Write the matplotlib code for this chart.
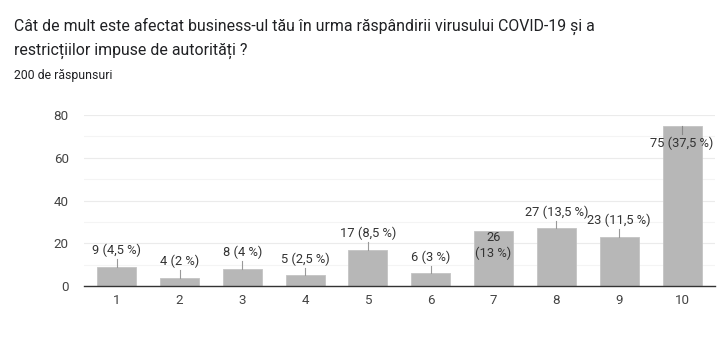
"""Google Forms style bar chart: impact of COVID-19 on business."""

import matplotlib

matplotlib.use("Agg")
import matplotlib.pyplot as plt

categories = ["1", "2", "3", "4", "5", "6", "7", "8", "9", "10"]
counts = [9, 4, 8, 5, 17, 6, 26, 27, 23, 75]
labels = ["9 (4,5 %)", "4 (2 %)", "8 (4 %)", "5 (2,5 %)", "17 (8,5 %)",
          "6 (3 %)", "26\n(13 %)", "27 (13,5 %)", "23 (11,5 %)", "75 (37,5 %)"]
y_ticks = [0, 20, 40, 60, 80]

plt.rcParams["font.family"] = ["Roboto", "DejaVu Sans"]

fig = plt.figure(figsize=(7.2, 3.51), dpi=100)
ax = fig.add_axes([0.1167, 0.185, 0.876, 0.487])

fig.text(14 / 720, 1 - 26 / 351,
         "Cât de mult este afectat business-ul tău în urma răspândirii virusului COVID-19 și a",
         fontsize=11.4, color="#202124", va="center")
fig.text(14 / 720, 1 - 51 / 351, "restricțiilor impuse de autorități ?",
         fontsize=11.4, color="#202124", va="center")
fig.text(14 / 720, 1 - 76 / 351, "200 de răspunsuri",
         fontsize=8.8, color="#202124", va="center")

x = list(range(1, len(categories) + 1))
ax.bar(x, counts, width=0.62, color="#b7b7b7", edgecolor="#c4c4c4",
       linewidth=0.6, zorder=3)

lab_fs = 9.3
for xi, v, lab in zip(x, counts, labels):
    if v >= 70:
        ax.plot([xi, xi], [v, v - 4], color="#888888", lw=0.8, zorder=4)
        ax.text(xi, v - 8, lab, ha="center", va="center", fontsize=lab_fs,
                color="#333333", zorder=5)
    elif "\n" in lab:
        ax.text(xi, v - 7, lab, ha="center", va="center", fontsize=lab_fs,
                color="#333333", zorder=5, linespacing=1.2)
    else:
        ax.plot([xi, xi], [v, v + 3.6], color="#999999", lw=0.8, zorder=4)
        ax.text(xi, v + 7.6, lab, ha="center", va="center", fontsize=lab_fs,
                color="#333333", zorder=5)

ax.set_xlim(0.48, 10.52)
ax.set_ylim(0, 80)
ax.set_yticks(y_ticks)
ax.set_yticks(range(10, 80, 20), minor=True)
ax.set_xticks(x)
ax.set_xticklabels(categories)
ax.grid(axis="y", which="major", color="#ebebeb", lw=0.8, zorder=0)
ax.grid(axis="y", which="minor", color="#f4f4f4", lw=0.8, zorder=0)
ax.tick_params(axis="both", which="both", length=0, labelsize=9.6,
               labelcolor="#444444")
ax.tick_params(axis="y", pad=11)
ax.tick_params(axis="x", pad=6)
for side in ["top", "right", "left"]:
    ax.spines[side].set_visible(False)
ax.spines["bottom"].set_color("#333333")
ax.spines["bottom"].set_linewidth(1.0)
ax.spines["bottom"].set_zorder(6)

fig.savefig("out.png", dpi=100)
